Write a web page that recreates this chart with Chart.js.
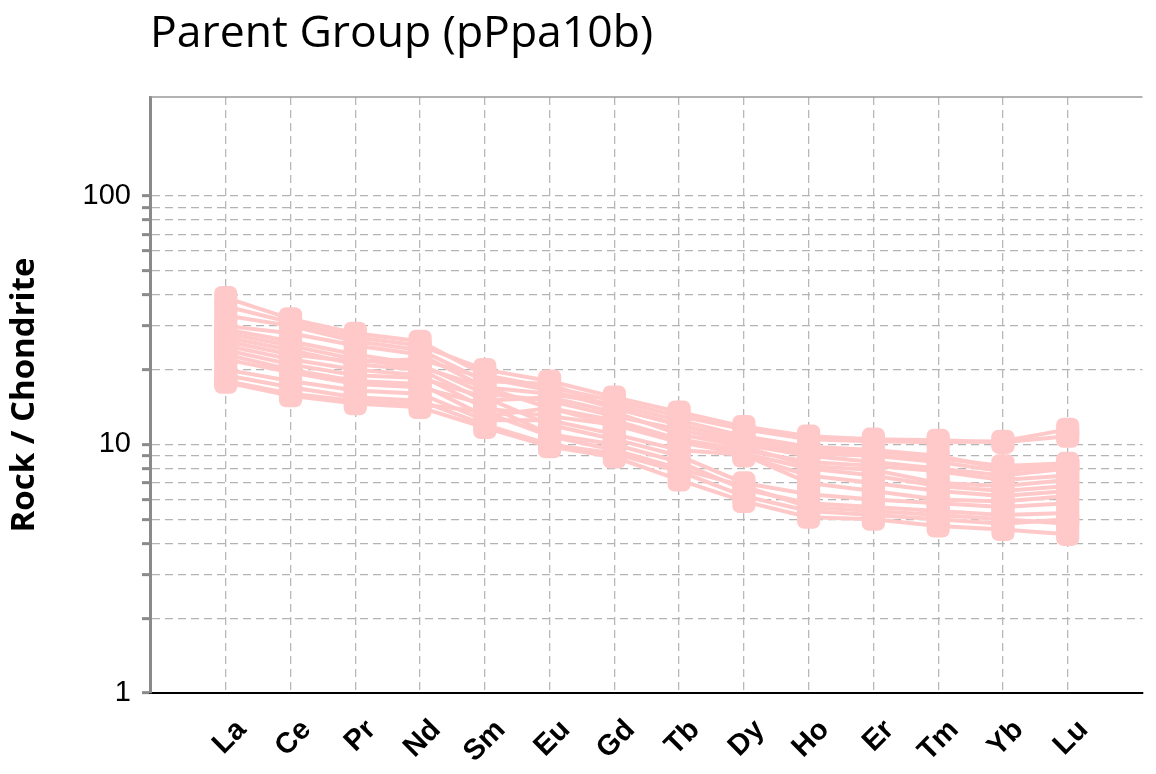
<!DOCTYPE html>
<html>
<head>
<meta charset="utf-8">
<script src="https://cdn.jsdelivr.net/npm/chart.js@4.4.1/dist/chart.umd.min.js"></script>
<style>
  html, body { margin: 0; padding: 0; background: #fff; }
  #wrap { width: 1156px; height: 774px; }
</style>
</head>
<body>
<div id="wrap"><canvas id="reeChart" width="1156" height="774"></canvas></div>
<script>
// REE elements along the x axis
const categories = ["La","Ce","Pr","Nd","Sm","Eu","Gd","Tb","Dy","Ho","Er","Tm","Yb","Lu"];

// Rock / Chondrite values, one array per sample
const s01 = [39, 32, 28, 26, 19, 17, 15, 13, 11.5, 10.5, 10.3, 10.2, 10.3, 11.5];
const s02 = [36, 31, 27, 25, 20, 18, 15.5, 13.5, 11.8, 10.8, 10.5, 10.4, 10.2, 10.8];
const s03 = [33, 30, 26, 24, 18, 17.5, 14, 12, 10.5, 9.5, 9.2, 8.8, 8.2, 8.4];
const s04 = [30, 28, 25, 23, 17, 16, 14.5, 12.5, 10.8, 9.8, 9.5, 9.0, 8.0, 8.3];
const s05 = [29, 26, 23, 21, 16, 15, 13, 11.5, 10.0, 9.0, 8.5, 8.0, 7.5, 8.0];
const s06 = [28, 25, 22, 20.5, 17, 14, 12, 10.5, 9.5, 8.5, 8.2, 7.8, 7.2, 7.5];
const s07 = [27, 24, 21, 20, 15, 15.5, 13.5, 11, 9.8, 8.2, 7.9, 7.0, 6.8, 7.2];
const s08 = [25, 22, 20, 19, 14, 13, 12, 10.2, 9.2, 8.0, 7.5, 6.8, 6.5, 6.8];
const s09 = [24, 21, 19, 18.5, 15.5, 12, 10.5, 9.0, 7.0, 6.3, 6.0, 5.8, 5.6, 5.8];
const s10 = [23, 20, 18, 17.5, 13, 14, 12.5, 10.5, 9.0, 7.5, 7.0, 6.5, 6.2, 6.5];
const s11 = [22, 19.5, 17.5, 17, 14.5, 11, 10, 8.5, 6.6, 5.8, 5.6, 5.4, 5.2, 5.3];
const s12 = [20, 18, 16.5, 16, 12.5, 12.5, 11, 9.5, 9.1, 7.0, 6.5, 6.0, 5.9, 6.2];
const s13 = [19, 17, 15.5, 15, 12, 10, 9.2, 7.8, 6.2, 5.4, 5.2, 5.0, 4.8, 5.0];
const s14 = [18, 16, 15, 14.5, 13.5, 10.8, 9.5, 8.0, 6.8, 5.6, 5.4, 5.2, 5.0, 4.8];
const s15 = [17.8, 15.7, 14.6, 14.1, 11.7, 9.8, 8.9, 7.2, 5.9, 5.1, 5.0, 4.7, 4.55, 4.35];
const s16 = [26, 23, 21.5, 22, 18.5, 16.5, 14, 12, 10.2, 9.2, 9.0, 8.5, 7.8, 8.2];
const seriesValues = [s01,s02,s03,s04,s05,s06,s07,s08,s09,s10,s11,s12,s13,s14,s15,s16];

// log axis ticks and the ones that get a label
const yTicks = [1,2,3,4,5,6,7,8,9,10,20,30,40,50,60,70,80,90,100];
const yLabels = [1, 10, 100];

const pink = "#FFC9C9";

const datasets = seriesValues.map(function(vals, n){
    return {
        label: "sample " + (n + 1),
        data: vals.map(function(v, i){ return {x: i, y: v}; }),
        borderColor: pink,
        backgroundColor: pink,
        borderWidth: 4,
        pointStyle: "rectRounded",
        pointRadius: 13.5,
        pointHoverRadius: 13.5,
        pointBorderWidth: 0,
        tension: 0
    };
});

// thin top edge of the plot frame
const frameTop = {
    id: "frameTop",
    afterDraw(chart){
        const a = chart.chartArea, ctx = chart.ctx;
        ctx.save();
        ctx.strokeStyle = "#9a9a9a";
        ctx.lineWidth = 1.5;
        ctx.beginPath();
        ctx.moveTo(a.left, a.top);
        ctx.lineTo(a.right, a.top);
        ctx.stroke();
        ctx.restore();
    }
};

new Chart(document.getElementById("reeChart"), {
    type: "line",
    data: { datasets: datasets },
    plugins: [frameTop],
    options: {
        responsive: false,
        animation: false,
        layout: { padding: { left: 0, right: 11, top: 0, bottom: 0 } },
        plugins: {
            legend: { display: false },
            tooltip: { enabled: false },
            title: {
                display: true,
                text: "Parent Group (pPpa10b)",
                align: "start",
                fullSize: false,
                color: "#000",
                font: { family: "'Open Sans', 'Noto Sans', sans-serif", size: 44.5, weight: "normal", lineHeight: 1.2 },
                padding: { top: 7.5, bottom: 36.1 }
            }
        },
        scales: {
            x: {
                type: "linear",
                min: -1.17,
                max: 14.155,
                afterBuildTicks(scale){
                    scale.ticks = categories.map(function(_, i){ return {value: i}; });
                },
                afterFit(scale){ scale.height = 81; },
                grid: {
                    color: "#b8b8b8",
                    lineWidth: 1.3,
                    drawTicks: false
                },
                border: { color: "#000", width: 2, dash: [8, 5] },
                ticks: {
                    autoSkip: false,
                    minRotation: 45,
                    maxRotation: 45,
                    padding: 20,
                    labelOffset: 16,
                    color: "#000",
                    font: { family: "'Liberation Sans', Arial, sans-serif", size: 29, weight: "bold" },
                    callback: function(v){ return categories[v]; }
                }
            },
            y: {
                type: "logarithmic",
                min: 1,
                max: 250,
                afterBuildTicks(scale){
                    scale.ticks = yTicks.map(function(v){ return {value: v}; });
                },
                afterFit(scale){ scale.width = 150; },
                grid: {
                    color: "#b3b3b3",
                    lineWidth: 1.3,
                    tickColor: "#8a8a8a",
                    tickWidth: 3,
                    tickLength: 8,
                    tickBorderDash: []
                },
                border: { color: "#8a8a8a", width: 3, dash: [8, 5] },
                ticks: {
                    autoSkip: false,
                    padding: 11,
                    color: "#000",
                    font: { family: "'Liberation Sans', Arial, sans-serif", size: 29 },
                    callback: function(v){ return yLabels.indexOf(v) >= 0 ? String(v) : ""; }
                },
                title: {
                    display: true,
                    text: "Rock / Chondrite",
                    color: "#000",
                    font: { family: "'Open Sans', 'Noto Sans', sans-serif", size: 33, weight: "bold", lineHeight: 1.2 },
                    padding: { top: 5, bottom: 0 }
                }
            }
        }
    }
});
</script>
</body>
</html>
